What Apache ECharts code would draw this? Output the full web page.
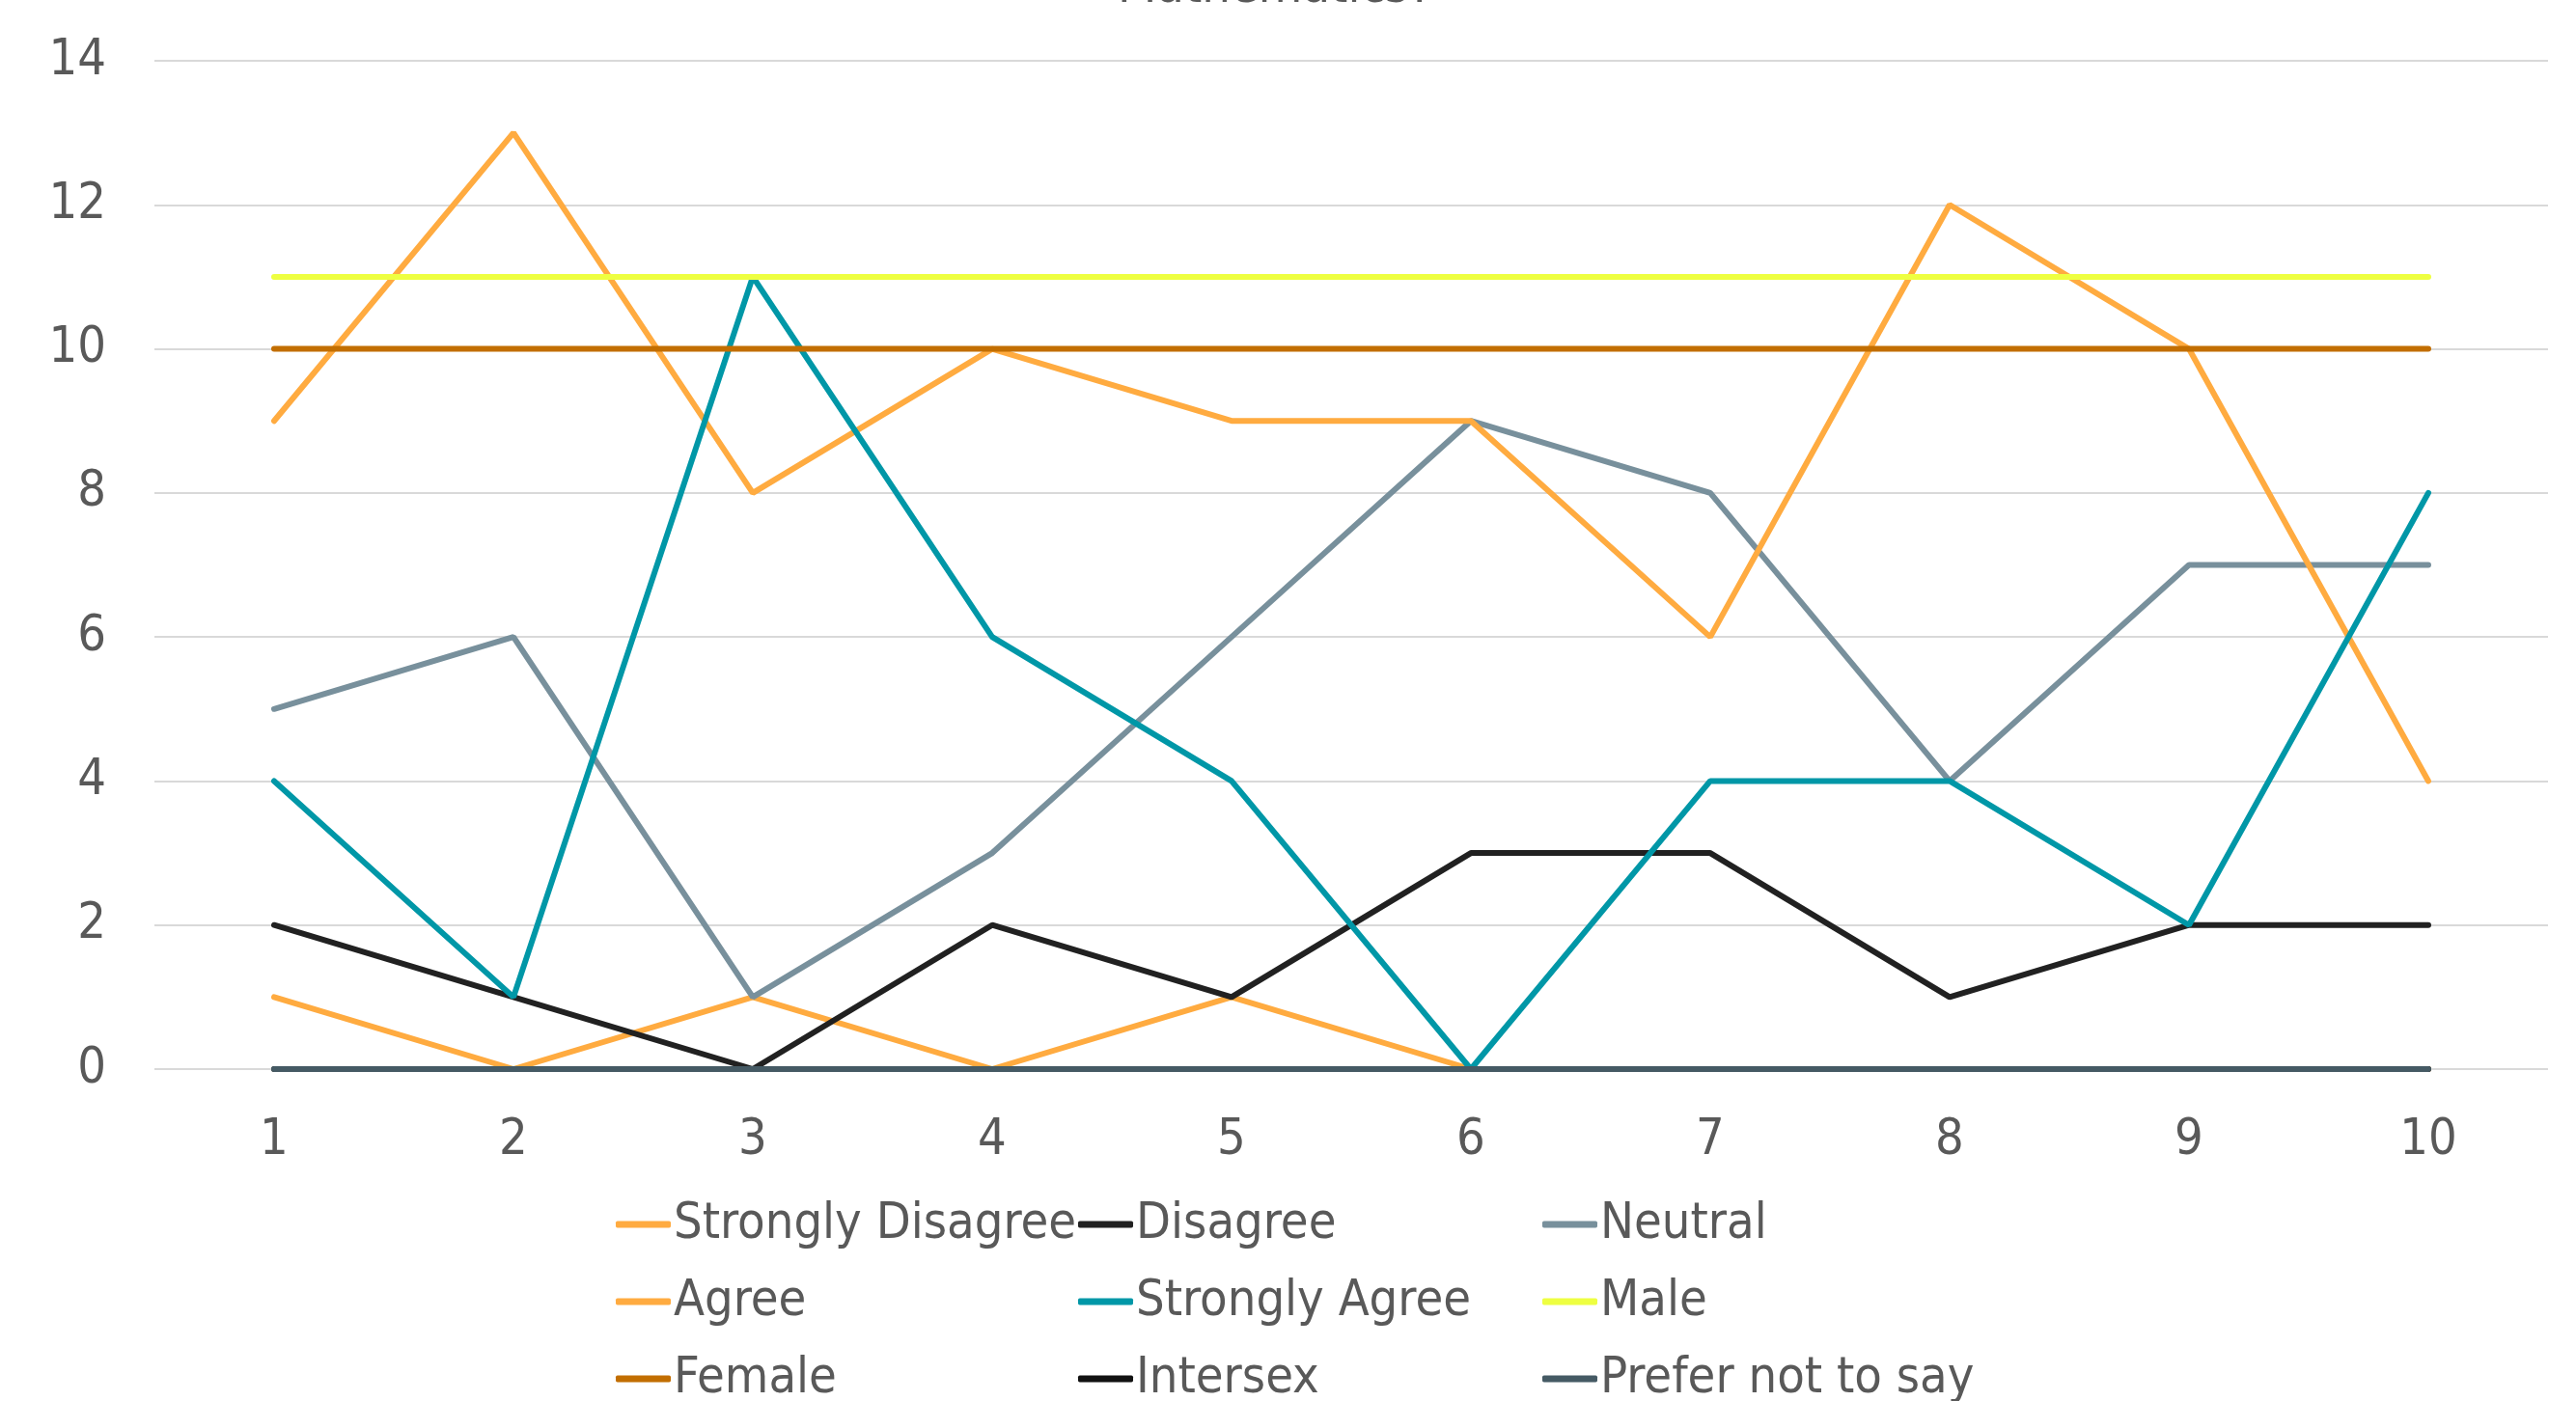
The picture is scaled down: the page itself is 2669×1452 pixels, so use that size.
<!DOCTYPE html>
<html><head><meta charset="utf-8">
<script src="https://cdn.jsdelivr.net/npm/echarts@6/dist/echarts.min.js"></script>
<style>html,body{margin:0;padding:0;background:#fff}#chart{width:2669px;height:1452px}</style>
</head>
<body>
<div id="chart"></div>
<script>
// Responses per question
const categories = ['1', '2', '3', '4', '5', '6', '7', '8', '9', '10'];
const stronglyDisagree = [1, 0, 1, 0, 1, 0, 0, 0, 0, 0];
const disagree = [2, 1, 0, 2, 1, 3, 3, 1, 2, 2];
const neutral = [5, 6, 1, 3, 6, 9, 8, 4, 7, 7];
const agree = [9, 13, 8, 10, 9, 9, 6, 12, 10, 4];
const stronglyAgree = [4, 1, 11, 6, 4, 0, 4, 4, 2, 8];
const male = [11, 11, 11, 11, 11, 11, 11, 11, 11, 11];
const female = [10, 10, 10, 10, 10, 10, 10, 10, 10, 10];
const intersex = [0, 0, 0, 0, 0, 0, 0, 0, 0, 0];
const preferNotToSay = [0, 0, 0, 0, 0, 0, 0, 0, 0, 0];
const yTicks = { min: 0, max: 14, interval: 2 };

const FONT = '"DejaVu Sans Condensed", "DejaVu Sans", sans-serif';
const TEXT = '#595959';

const seriesDefs = [
  { name: 'Strongly Disagree', data: stronglyDisagree, color: '#FFAB40' },
  { name: 'Disagree', data: disagree, color: '#212121' },
  { name: 'Neutral', data: neutral, color: '#78909C' },
  { name: 'Agree', data: agree, color: '#FFAB40' },
  { name: 'Strongly Agree', data: stronglyAgree, color: '#0097A7' },
  { name: 'Male', data: male, color: '#EEFF41' },
  { name: 'Female', data: female, color: '#C26E00' },
  { name: 'Intersex', data: intersex, color: '#111111' },
  { name: 'Prefer not to say', data: preferNotToSay, color: '#455A64' }
];

// One vertical legend per column, three entries each
function legendColumn(left, names) {
  return {
    orient: 'vertical',
    left: left,
    top: 1239,
    height: 260,
    padding: 0,
    icon: 'roundRect',
    itemWidth: 57,
    itemHeight: 7,
    itemGap: 20,
    selectedMode: false,
    data: names,
    textStyle: { fontFamily: FONT, fontSize: 52, color: TEXT, lineHeight: 60, padding: [0, 0, 0, -2] }
  };
}

const chart = echarts.init(document.getElementById('chart'), null, { renderer: 'canvas' });
chart.setOption({
  animation: false,
  backgroundColor: '#ffffff',
  title: {
    text: 'Mathematics?',
    left: 1158,
    top: -38,
    padding: 0,
    textStyle: { fontFamily: FONT, fontSize: 52, fontWeight: 'normal', color: TEXT, lineHeight: 52 }
  },
  grid: { left: 160, right: 29, top: 63, bottom: 344, containLabel: false },
  legend: [
    legendColumn(638, ['Strongly Disagree', 'Agree', 'Female']),
    legendColumn(1117, ['Disagree', 'Strongly Agree', 'Intersex']),
    legendColumn(1598, ['Neutral', 'Male', 'Prefer not to say'])
  ],
  xAxis: {
    type: 'category',
    data: categories,
    boundaryGap: true,
    axisLine: { show: false },
    axisTick: { show: false },
    axisLabel: { fontFamily: FONT, fontSize: 52, color: TEXT, margin: 48 }
  },
  yAxis: {
    type: 'value',
    min: yTicks.min,
    max: yTicks.max,
    interval: yTicks.interval,
    axisLine: { show: false },
    axisTick: { show: false },
    axisLabel: { fontFamily: FONT, fontSize: 52, color: TEXT, margin: 50 },
    splitLine: { lineStyle: { color: '#D9D9D9', width: 2 } }
  },
  series: seriesDefs.map(s => ({
    name: s.name,
    type: 'line',
    data: s.data,
    symbol: 'none',
    color: s.color,
    lineStyle: { color: s.color, width: 6, cap: 'round' },
    emphasis: { disabled: true }
  }))
});
</script>
</body></html>
